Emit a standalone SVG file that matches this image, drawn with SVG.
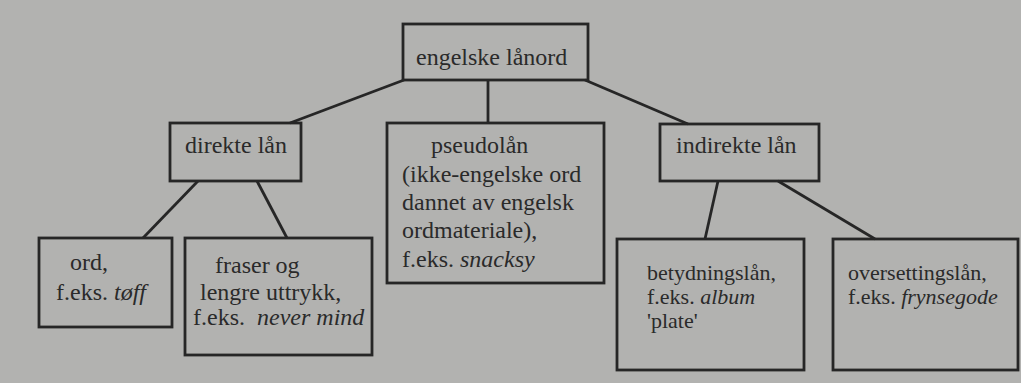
<svg xmlns="http://www.w3.org/2000/svg" width="1021" height="383" viewBox="0 0 1021 383">
<style>
.bx{fill:none;stroke:#262626;stroke-width:2.8}
.ln{stroke:#262626;stroke-width:2.8;fill:none}
text{font-family:'Liberation Serif','DejaVu Serif','Times New Roman',serif;font-size:24px;fill:#2a2a2a}
.i{font-style:italic}
.s{font-size:22px}
</style>
<rect width="1021" height="383" fill="#b2b2b0"/>
<g id="connectors">
<line class="ln" x1="404" y1="80" x2="290" y2="123"/>
<line class="ln" x1="488" y1="80" x2="488" y2="123"/>
<line class="ln" x1="585" y1="80" x2="688" y2="124"/>
<line class="ln" x1="198" y1="181" x2="143" y2="238"/>
<line class="ln" x1="257" y1="181" x2="287" y2="238"/>
<line class="ln" x1="718" y1="181" x2="705" y2="239"/>
<line class="ln" x1="778" y1="181" x2="875" y2="239"/>
</g>
<g id="root">
<rect class="bx" x="403" y="24" width="185" height="56"/>
<text x="416" y="65">engelske lånord</text>
</g>
<g id="direkte">
<rect class="bx" x="170" y="123" width="131" height="58"/>
<text x="185" y="153">direkte lån</text>
</g>
<g id="pseudo">
<rect class="bx" x="387" y="123" width="217" height="160"/>
<text x="431" y="153">pseudolån</text>
<text x="402" y="182">(ikke-engelske ord</text>
<text x="402" y="210">dannet av engelsk</text>
<text x="402" y="238">ordmateriale),</text>
<text x="402" y="267">f.eks. <tspan class="i">snacksy</tspan></text>
</g>
<g id="indirekte">
<rect class="bx" x="660" y="124" width="159" height="57"/>
<text x="676" y="153">indirekte lån</text>
</g>
<g id="ord">
<rect class="bx" x="39" y="238" width="133" height="89"/>
<text x="70" y="270">ord,</text>
<text x="56" y="300">f.eks. <tspan class="i">tøff</tspan></text>
</g>
<g id="fraser">
<rect class="bx" x="185" y="238" width="187" height="117"/>
<text x="215" y="273">fraser og</text>
<text x="200" y="300">lengre uttrykk,</text>
<text x="193" y="325">f.eks.  <tspan class="i" x="257">never mind</tspan></text>
</g>
<g id="betydning">
<rect class="bx" x="617" y="239" width="187" height="131"/>
<text class="s" x="647" y="280">betydningslån,</text>
<text class="s" x="647" y="304">f.eks. <tspan class="i">album</tspan></text>
<text class="s" x="647" y="328">'plate'</text>
</g>
<g id="oversetting">
<rect class="bx" x="833" y="239" width="185" height="131"/>
<text class="s" x="848" y="280">oversettingslån,</text>
<text class="s" x="848" y="304">f.eks. <tspan class="i">frynsegode</tspan></text>
</g>
</svg>
